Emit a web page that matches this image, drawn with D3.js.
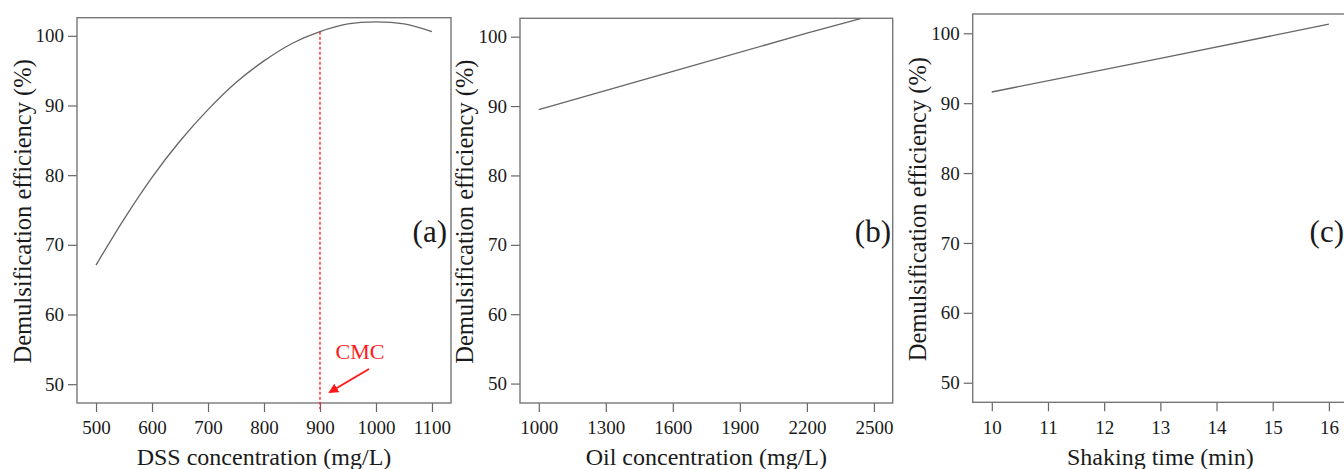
<!DOCTYPE html>
<html lang="en">
<head>
<meta charset="UTF-8">
<title>Demulsification efficiency</title>
<script src="https://cdnjs.cloudflare.com/ajax/libs/d3/7.8.5/d3.min.js"></script>
<style>
  body { margin: 0; background: #fff; overflow: hidden; }
  text { font-family: "Liberation Serif", "Times New Roman", serif; fill: #1a1a1a; }
</style>
</head>
<body>
<div id="chart"></div>
<script>
// Data
const dssConc = [500, 550, 600, 650, 700, 750, 800, 850, 900, 950, 1000, 1050, 1100];
const dssEff  = [67.1, 73.7, 79.7, 84.9, 89.4, 93.3, 96.4, 98.9, 100.6, 101.7, 102.0, 101.7, 100.6];
const oilConc = [1000, 1600, 2200, 2440];
const oilEff  = [89.5, 95.0, 100.5, 102.6];
const shakeTime = [10, 13, 16];
const shakeEff  = [91.6, 96.4, 101.3];

const dssTicks = [500, 600, 700, 800, 900, 1000, 1100];
const oilTicks = [1000, 1300, 1600, 1900, 2200, 2500];
const timeTicks = [10, 11, 12, 13, 14, 15, 16];
const effTicks = [50, 60, 70, 80, 90, 100];
const cmcValue = 900;

const width = 1344, height = 469;
const svg = d3.select("#chart").append("svg")
    .attr("width", width).attr("height", height);

const panels = [
  { left: 77, right: 451, top: 17.7, bottom: 403, xDom: [466, 1134], yDom: [47.3, 102.6],
    xs: dssConc, ys: dssEff, ticks: dssTicks, xTitle: "DSS concentration (mg/L)",
    tag: "(a)", tagX: 447, yTitleX: 23, curve: d3.curveCatmullRom },
  { left: 520, right: 892.7, top: 18.3, bottom: 403, xDom: [916, 2584], yDom: [47.2, 102.65],
    xs: oilConc, ys: oilEff, ticks: oilTicks, xTitle: "Oil concentration (mg/L)",
    tag: "(b)", tagX: 891, yTitleX: 465, curve: d3.curveLinear },
  { left: 972.7, right: 1348, top: 14, bottom: 402.3, xDom: [9.66, 16.34], yDom: [47.2, 102.76],
    xs: shakeTime, ys: shakeEff, ticks: timeTicks, xTitle: "Shaking time (min)",
    tag: "(c)", tagX: 1344, yTitleX: 918, curve: d3.curveLinear }
];

svg.append("defs").append("marker")
    .attr("id", "arrow").attr("viewBox", "0 0 10 10")
    .attr("refX", 8).attr("refY", 5)
    .attr("markerWidth", 5).attr("markerHeight", 5)
    .attr("orient", "auto")
  .append("path").attr("d", "M0,0L10,5L0,10z").attr("fill", "#ff1a1a");

panels.forEach((p, i) => {
  const x = d3.scaleLinear().domain(p.xDom).range([p.left, p.right]);
  const y = d3.scaleLinear().domain(p.yDom).range([p.bottom, p.top]);
  const g = svg.append("g");

  // bottom axis
  const xa = g.append("g").attr("transform", `translate(0,${p.bottom})`)
      .call(d3.axisBottom(x).tickValues(p.ticks).tickFormat(d3.format("d"))
        .tickSize(9).tickPadding(9));
  // left axis
  const ya = g.append("g").attr("transform", `translate(${p.left},0)`)
      .call(d3.axisLeft(y).tickValues(effTicks).tickFormat(d3.format("d"))
        .tickSize(9).tickPadding(4));
  [xa, ya].forEach(a => {
    a.select(".domain").remove();
    a.selectAll(".tick line").attr("stroke", "#666").attr("stroke-width", 1.2);
    a.selectAll(".tick text").style("font-size", "19px").attr("fill", "#1a1a1a");
  });

  // frame
  g.append("rect")
      .attr("x", p.left).attr("y", p.top)
      .attr("width", p.right - p.left).attr("height", p.bottom - p.top)
      .attr("fill", "none").attr("stroke", "#777").attr("stroke-width", 1.4);

  const clipId = "clip" + i;
  svg.append("clipPath").attr("id", clipId).append("rect")
      .attr("x", p.left).attr("y", p.top)
      .attr("width", p.right - p.left).attr("height", p.bottom - p.top);

  const line = d3.line().x(d => x(d[0])).y(d => y(d[1])).curve(p.curve);
  g.append("path")
      .datum(p.xs.map((v, k) => [v, p.ys[k]]))
      .attr("clip-path", `url(#${clipId})`)
      .attr("d", line)
      .attr("fill", "none").attr("stroke", "#666").attr("stroke-width", 1.3);

  // axis titles
  g.append("text")
      .attr("x", (p.left + p.right) / 2).attr("y", 465)
      .attr("text-anchor", "middle").style("font-size", "24px")
      .text(p.xTitle);
  g.append("text")
      .attr("transform", `translate(${p.yTitleX + 8},${(p.top + p.bottom) / 2 + 1}) rotate(-90)`)
      .attr("text-anchor", "middle").style("font-size", "24.5px")
      .text("Demulsification efficiency (%)");

  // panel tag
  g.append("text")
      .attr("x", p.tagX).attr("y", 242)
      .attr("text-anchor", "end").style("font-size", "31px")
      .text(p.tag);

  if (i === 0) {
    const cmcY = dssEff[dssConc.indexOf(cmcValue)];
    g.append("line")
        .attr("x1", x(cmcValue)).attr("x2", x(cmcValue))
        .attr("y1", y(cmcY)).attr("y2", p.bottom + 6)
        .attr("stroke", "#ff1a1a").attr("stroke-width", 1.3)
        .attr("stroke-dasharray", "3,2");
    g.append("text")
        .attr("x", 360).attr("y", 359)
        .attr("text-anchor", "middle").style("font-size", "22px")
        .style("fill", "#ff1a1a")
        .text("CMC");
    g.append("line")
        .attr("x1", 369).attr("y1", 369).attr("x2", 330).attr("y2", 392)
        .attr("stroke", "#ff1a1a").attr("stroke-width", 2)
        .attr("marker-end", "url(#arrow)");
  }
});
</script>
</body>
</html>
